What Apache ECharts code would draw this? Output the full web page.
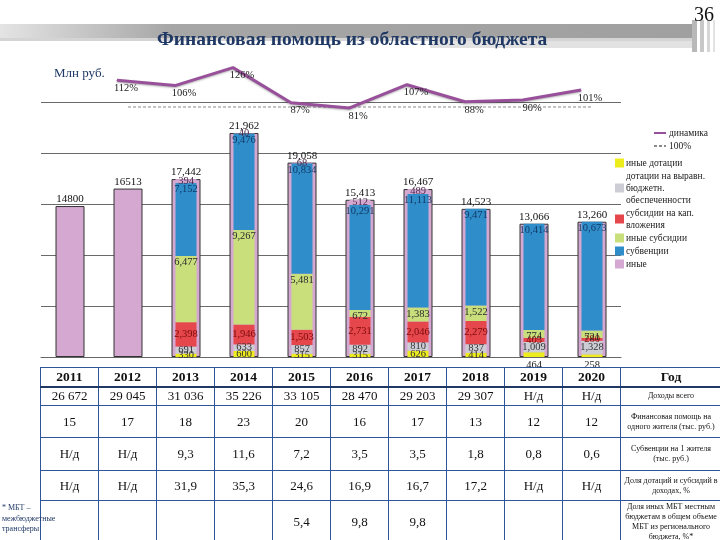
<!DOCTYPE html>
<html><head><meta charset="utf-8">
<script src="https://cdn.jsdelivr.net/npm/echarts@6/dist/echarts.min.js"></script>
<style>
html,body{margin:0;padding:0;background:#fff;width:720px;height:540px;overflow:hidden;font-family:"Liberation Serif",serif;}
#chart{position:absolute;left:0;top:0;width:720px;height:540px;}
#tbl{position:absolute;left:40px;top:367px;border-collapse:collapse;table-layout:fixed;width:681px;font-family:"Liberation Serif",serif;color:#111;}
#tbl td{border:1.5px solid #2E5597;text-align:center;vertical-align:middle;padding:0;font-size:13px;line-height:14px;}
#tbl tr.h td{font-weight:bold;font-size:13.5px;border-bottom:2.5px solid #1F3864;}
#tbl td.d{font-size:8px;line-height:10px;}
#tbl tr.h td.d{font-size:13.5px;}
#note{position:absolute;left:2px;top:503px;font-size:8px;line-height:10.5px;color:#1F3864;font-family:"Liberation Serif",serif;}
</style></head>
<body>
<div id="chart"></div>
<table id="tbl"></table>
<div id="note">* МБТ –<br>межбюджетные<br>трансферы</div>
<script>
// ---- data ----
var years = ['2011','2012','2013','2014','2015','2016','2017','2018','2019','2020'];
var totals = [14800, 16513, 17442, 21962, 19058, 15413, 16467, 14523, 13066, 13260];
var otherDot = [null, null, 330, 600, 315, 315, 626, 414, 464, 258];        // иные дотации
var equalDot = [null, null, 691, 633, 857, 892, 810, 837, 1009, 1328];      // дотации на выравнивание
var capSub   = [null, null, 2398, 1946, 1503, 2731, 2046, 2279, 405, 280];  // субсидии на кап. вложения
var otherSub = [null, null, 6477, 9267, 5481, 672, 1383, 1522, 774, 721];   // иные субсидии
var subv     = [null, null, 7152, 9476, 10834, 10291, 11113, 9471, 10414, 10673]; // субвенции
var other    = [null, null, 394, 40, 68, 512, 489, null, null, null];       // иные
var dynYears = ['2012','2013','2014','2015','2016','2017','2018','2019','2020'];
var dynamics = [112, 106, 126, 87, 81, 107, 88, 90, 101];
var ref100   = [null, 100, 100, 100, 100, 100, 100, 100, 100, 100];

var rowIncome = ['26 672','29 045','31 036','35 226','33 105','28 470','29 203','29 307','Н/д','Н/д'];
var rowPerCap = ['15','17','18','23','20','16','17','13','12','12'];
var rowSubvPerCap = ['Н/д','Н/д','9,3','11,6','7,2','3,5','3,5','1,8','0,8','0,6'];
var rowShare = ['Н/д','Н/д','31,9','35,3','24,6','16,9','16,7','17,2','Н/д','Н/д'];
var rowOtherShare = ['','','','','5,4','9,8','9,8','','',''];
var rowDesc = ['Год','Доходы всего','Финансовая помощь на<br>одного жителя (тыс. руб.)','Субвенции на 1 жителя<br>(тыс. руб.)','Доля дотаций и субсидий в<br>доходах, %','Доля иных МБТ местным<br>бюджетам в общем объеме<br>МБТ из регионального<br>бюджета, %*'];

// ---- table ----
(function(){
  var rows = [years, rowIncome, rowPerCap, rowSubvPerCap, rowShare, rowOtherShare];
  var heights = [19, 19, 32, 33, 30, 42];
  var html = '<colgroup>';
  for (var i = 0; i < years.length; i++) html += '<col style="width:58px">';
  html += '<col style="width:101px"></colgroup>';
  rows.forEach(function(r, ri){
    html += '<tr' + (ri === 0 ? ' class="h"' : '') + ' style="height:' + heights[ri] + 'px">';
    r.forEach(function(v){ html += '<td>' + v + '</td>'; });
    html += '<td class="d">' + rowDesc[ri] + '</td></tr>';
  });
  document.getElementById('tbl').innerHTML = html;
})();

function fmt(n){
  if (n == null) return '';
  if (n >= 1000) { var t = n % 1000; return Math.floor(n/1000) + ',' + (t < 10 ? '00' : t < 100 ? '0' : '') + t; }
  return String(n);
}

var C = {yellow:'#EDED1E', grey:'#CDCDD6', red:'#E6474C', green:'#C8DF7C', blue:'#2F8DCA', lilac:'#D4A8D1'};
var SERIF = 'Liberation Serif';

function seg(name, data, color, pos, labColor, bottomIdx){
  return {
    name: name, type: 'bar', stack: 'seg', xAxisIndex: 1, yAxisIndex: 0,
    barWidth: 21, z: 3,
    itemStyle: {color: color},
    label: {show: true, position: pos, distance: 1, fontFamily: SERIF, fontSize: 10.5, color: labColor,
      formatter: function(p){ return fmt(p.value); }},
    data: data.map(function(v, i){
      if (bottomIdx && bottomIdx.indexOf(i) >= 0) return {value: v, label: {position: 'bottom', distance: 3, color: '#222'}};
      return v;
    })
  };
}

var chart = echarts.init(document.getElementById('chart'), null, {renderer: 'canvas'});
var option = {
  animation: false,
  backgroundColor: '#fff',
  textStyle: {fontFamily: SERIF},
  graphic: [
    {type: 'rect', shape: {x: 0, y: 24, width: 692, height: 14}, style: {fill: new echarts.graphic.LinearGradient(0,0,1,0,[{offset:0,color:'#e4e4e4'},{offset:0.25,color:'#a6a6a6'},{offset:1,color:'#a0a0a0'}])}, z: 0},
    {type: 'rect', shape: {x: 0, y: 38, width: 692, height: 3}, style: {fill: '#d4d4d4'}, z: 0},
    {type: 'rect', shape: {x: 430, y: 41, width: 262, height: 7}, style: {fill: '#e2e2e2'}, z: 0},
    {type: 'rect', shape: {x: 692, y: 20, width: 5, height: 32}, style: {fill: '#b8b8b8'}, z: 0},
    {type: 'rect', shape: {x: 700, y: 20, width: 4, height: 32}, style: {fill: '#c8c8c8'}, z: 0},
    {type: 'rect', shape: {x: 707, y: 20, width: 3, height: 32}, style: {fill: '#d6d6d6'}, z: 0},
    {type: 'rect', shape: {x: 713, y: 20, width: 2, height: 32}, style: {fill: '#e2e2e2'}, z: 0},
    {type: 'text', left: 157, top: 30, z: 5, style: {text: 'Финансовая помощь из областного бюджета', font: 'bold 19.5px "Liberation Serif"', fill: '#1F3864'}},
    {type: 'text', right: 6, top: 6, z: 5, style: {text: '36', font: '20px "Liberation Serif"', fill: '#111'}},
    {type: 'text', left: 54, top: 67, z: 5, style: {text: 'Млн руб.', font: '13px "Liberation Serif"', fill: '#1F3864'}}
  ],
  legend: [
    {data: [{name: 'динамика', icon: 'rect'}, '100%'], orient: 'vertical', left: 648, top: 123, itemWidth: 12, itemHeight: 2, itemGap: 3,
      textStyle: {fontFamily: SERIF, fontSize: 9.5, color: '#222', padding: [0,0,0,-2]}},
    {data: ['иные дотации', 'дотации на выравн.\nбюджетн.\nобеспеченности', 'субсидии на кап.\nвложения', 'иные субсидии', 'субвенции', 'иные'],
      orient: 'vertical', left: 610, top: 152, itemWidth: 9, itemHeight: 9, itemGap: 1, icon: 'rect',
      textStyle: {fontFamily: SERIF, fontSize: 9.5, lineHeight: 12, color: '#222', padding: [0,0,0,-3]}}
  ],
  grid: [
    {left: 41, right: 99, top: 102, bottom: 183},
    {left: 88, right: 110, top: 64, bottom: 422}
  ],
  xAxis: [
    {type: 'category', gridIndex: 0, data: years, axisLabel: {show: false}, axisTick: {show: false}, axisLine: {show: true, lineStyle: {color: '#666'}}},
    {type: 'category', gridIndex: 0, data: years, show: false},
    {type: 'category', gridIndex: 1, data: dynYears, show: false}
  ],
  yAxis: [
    {type: 'value', gridIndex: 0, min: 0, max: 25000, interval: 5000, axisLabel: {show: false}, axisLine: {show: false}, axisTick: {show: false},
      splitLine: {show: true, lineStyle: {color: '#6a6a6a', width: 1}}},
    {type: 'value', gridIndex: 0, min: 0, max: 102, show: false, splitLine: {show: false}},
    {type: 'value', gridIndex: 1, min: 70, max: 130, show: false, splitLine: {show: false}}
  ],
  series: [
    {name: 'итого', type: 'bar', xAxisIndex: 0, yAxisIndex: 0, barWidth: 29, z: 2, data: totals,
      itemStyle: {color: C.lilac, borderColor: '#333', borderWidth: 1},
      label: {show: true, position: 'top', distance: 1, fontFamily: SERIF, fontSize: 11, color: '#111',
        formatter: function(p){ return p.dataIndex < 2 ? String(p.value) : fmt(p.value); }}},
    seg('иные дотации', otherDot, C.yellow, 'inside', '#333', [8, 9]),
    seg('дотации на выравн.\nбюджетн.\nобеспеченности', equalDot, C.grey, 'inside', '#333'),
    seg('субсидии на кап.\nвложения', capSub, C.red, 'inside', '#7a0a0a'),
    seg('иные субсидии', otherSub, C.green, 'insideTop', '#2a2a2a'),
    seg('субвенции', subv, C.blue, 'insideTop', '#123a66'),
    seg('иные', other, C.lilac, 'inside', '#4a2a4a'),
    {name: '100%', type: 'line', xAxisIndex: 0, yAxisIndex: 1, data: ref100, symbol: 'none', z: 4,
      lineStyle: {color: '#8a8a8a', width: 1, type: [3, 2]}, itemStyle: {color: '#8a8a8a'}},
    {name: 'динамика', type: 'line', xAxisIndex: 2, yAxisIndex: 2, data: dynamics, symbol: 'circle', symbolSize: 1, showSymbol: true, z: 4,
      lineStyle: {color: '#98509A', width: 3, shadowColor: 'rgba(0,0,0,0.3)', shadowBlur: 2, shadowOffsetY: 1}, itemStyle: {color: '#98509A'},
      label: {show: true, position: 'bottom', distance: 2, offset: [9, 0], fontFamily: SERIF, fontSize: 10.5, color: '#222',
        formatter: function(p){ return p.value + '%'; }}}
  ]
};
chart.setOption(option);
</script>
</body></html>
